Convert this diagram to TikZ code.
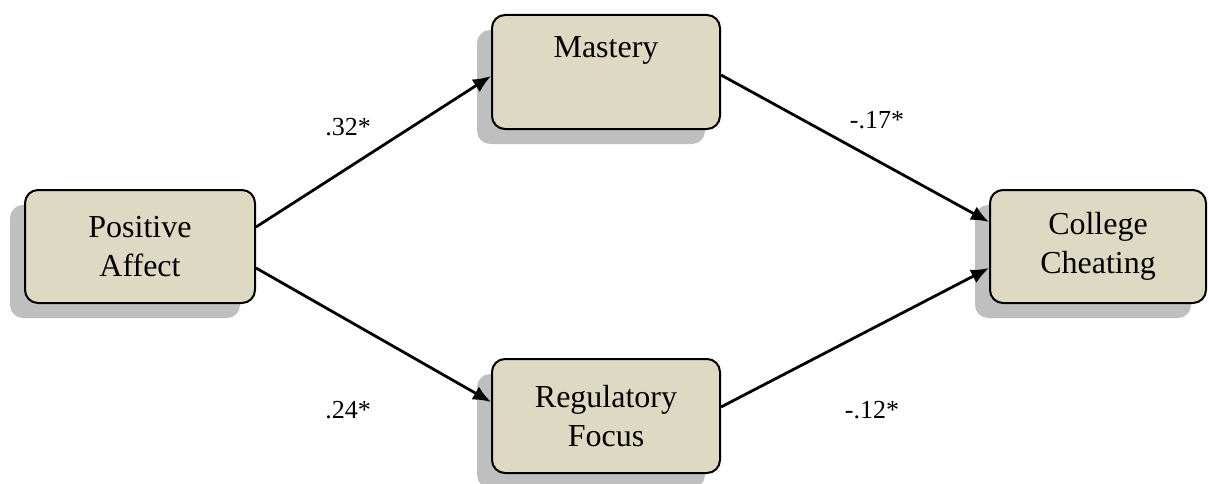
\documentclass[tikz,border=0pt]{standalone}
\usepackage{fontspec}
\setmainfont{Liberation Serif}
\usetikzlibrary{arrows.meta,shadows}
\definecolor{boxfill}{HTML}{DDD9C3}
\definecolor{shadowgray}{HTML}{BFBFBF}
\tikzset{
  x=1pt, y=1pt,
  varbox/.style={draw=black, line width=2pt, fill=boxfill, rounded corners=13pt,
    align=center, inner sep=0pt,
    font=\fontsize{32}{39}\selectfont,
    drop shadow={shadow xshift=-15pt, shadow yshift=-15pt, fill=shadowgray, opacity=1}},
  effect/.style={line width=2.8pt, -{Latex[length=18pt,width=15pt]}},
  coef/.style={font=\fontsize{26}{31}\selectfont, inner sep=0pt}
}
\begin{document}
\begin{tikzpicture}
\useasboundingbox (0,0) rectangle (1209,483);
% variables
\node[varbox, minimum width=230pt, minimum height=113pt] (pa) at (140,236.5) {Positive\\Affect};
\node[varbox, minimum width=228pt, minimum height=114pt] (mas) at (606,411) {};
\node[font=\fontsize{32}{39}\selectfont, anchor=base, inner sep=0pt] (mastxt) at (606,425) {Mastery};
\node[varbox, minimum width=228pt, minimum height=114pt] (rf) at (606,67) {Regulatory\\Focus};
\node[varbox, minimum width=216pt, minimum height=113pt] (cc) at (1098,236.5) {College\\Cheating};
% paths
\draw[effect] ([yshift=19.5pt]pa.east) -- ([yshift=-4pt]mas.west);
\draw[effect] ([yshift=-21.5pt]pa.east) -- ([yshift=14pt]rf.west);
\draw[effect] ([yshift=-3pt]mas.east) -- ([yshift=24.5pt]cc.west);
\draw[effect] ([yshift=9pt]rf.east) -- ([yshift=-21.5pt]cc.west);
% coefficients
\node[coef] (c1) at (348,356) {.32*};
\node[coef] (c2) at (348,73) {.24*};
\node[coef] (c3) at (877,363) {-.17*};
\node[coef] (c4) at (872,73) {-.12*};
\end{tikzpicture}
\end{document}
